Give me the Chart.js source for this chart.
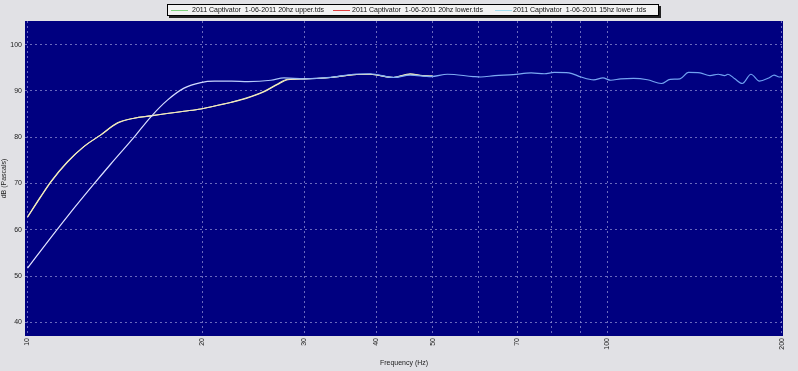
<!DOCTYPE html>
<html>
<head>
<meta charset="utf-8">
<script src="https://cdn.jsdelivr.net/npm/chart.js@4.4.0/dist/chart.umd.min.js"></script>
<style>
  body { margin: 0; background: #e1e1e5; }
  #wrap { position: relative; width: 798px; height: 371px; }
  #legend {
    position: absolute; left: 167px; top: 4px; width: 490px; height: 10px;
    background: #f2f2f2; border: 1px solid #000; box-shadow: 2px 2px 0 #222;
    font: 7px "Liberation Sans", Arial, sans-serif; color: #111;
  }
  #legend .ln { position: absolute; top: 5px; height: 1px; width: 17px; }
  #legend .tx { position: absolute; top: 1px; white-space: pre; line-height: 8px; }
</style>
</head>
<body>
<div id="wrap">
  <canvas id="freqChart"></canvas>
  <div id="legend"></div>
</div>
<script>
// Frequências (Hz) e níveis (dB)
const freq15 = [10, 10.97, 11.72, 13.02, 13.92, 15.27, 16.32, 17.43, 18.62, 19.9, 21, 22.5, 24, 26.3, 27.7, 30, 33.3, 36.5, 39, 42.8, 45.7, 49.7, 53, 58.7, 60.5, 64, 68.8, 73.9, 77.9, 81, 85.9, 90.1, 94.8, 98.3, 101.4, 105.5, 111, 117.3, 124, 128.4, 133.5, 138.1, 144.6, 150.4, 155.4, 159.4, 161.5, 166, 171, 177, 183, 190, 194, 198, 200];
const db15lower = [51.7, 58.3, 62.9, 69.9, 74.2, 80.0, 84.4, 88.0, 90.6, 91.8, 92.1, 92.1, 92.0, 92.3, 92.8, 92.6, 92.9, 93.6, 93.7, 92.9, 93.4, 93.1, 93.6, 93.1, 93.0, 93.3, 93.5, 93.9, 93.7, 94.0, 93.9, 93.0, 92.4, 92.8, 92.3, 92.6, 92.7, 92.4, 91.6, 92.5, 92.6, 94.0, 93.9, 93.3, 93.6, 93.3, 93.6, 92.6, 91.6, 93.6, 92.1, 92.8, 93.4, 93.0, 93.1];

const freq20 = [10, 10.54, 10.97, 11.72, 12.52, 13.38, 14.29, 15.27, 16.32, 17.4, 18.62, 19.9, 21.5, 22.4, 23.9, 25.6, 27.0, 28.1, 30, 33.3, 36.5, 39, 42.8, 45.7, 48, 50];
const db20upper = [62.8, 67.2, 70.4, 74.7, 78.0, 80.5, 83.1, 84.1, 84.6, 85.1, 85.6, 86.1, 87.0, 87.5, 88.5, 89.9, 91.5, 92.5, 92.6, 92.9, 93.5, 93.6, 92.9, 93.7, 93.3, 93.2];
const db20lower = [62.7, 67.1, 70.3, 74.6, 78.0, 80.5, 83.0, 84.1, 84.6, 85.1, 85.6, 86.1, 87.0, 87.5, 88.4, 89.8, 91.4, 92.4, 92.6, 92.9, 93.5, 93.6, 92.9, 93.6, 93.3, 93.2];

const xTicks = [10, 20, 30, 40, 50, 60, 70, 80, 90, 100, 200];
const xLabels = [10, 20, 30, 40, 50, 70, 100, 200];
const yTicks = [40, 50, 60, 70, 80, 90, 100];

const seriesNames = [
    '2011 Captivator  1-06-2011 20hz upper.tds',
    '2011 Captivator  1-06-2011 20hz lower.tds',
    '2011 Captivator  1-06-2011 15hz lower .tds'
];
const legendColors = ['#7ed07e', '#e04040', '#9fdcef'];

const fontFamily = '"Liberation Sans", Arial, sans-serif';
const gridColor = 'rgba(150, 150, 215, 0.7)';

// Monta pares {x, y}
function pares(xs, ys) {
    return xs.map((x, i) => ({ x: x, y: ys[i] }));
}

// Gradiente da curva de 15hz (esbranquiçada nos graves, azul clara nos agudos)
function gradiente15(context) {
    const chart = context.chart;
    const area = chart.chartArea;
    if (!area) return '#b0c4ff';
    const g = chart.ctx.createLinearGradient(area.left, 0, area.right, 0);
    g.addColorStop(0, '#e4e4ff');
    g.addColorStop(0.22, '#d4dcff');
    g.addColorStop(0.42, '#86b0f4');
    g.addColorStop(1, '#6a9ef0');
    return g;
}

// Fundo azul marinho da área do gráfico
const fundoPlot = {
    id: 'fundoPlot',
    beforeDraw(chart) {
        const { ctx, chartArea } = chart;
        ctx.save();
        ctx.fillStyle = '#000080';
        ctx.fillRect(chartArea.left, chartArea.top, chartArea.right - chartArea.left, chartArea.bottom - chartArea.top);
        ctx.restore();
    }
};

// Legenda em HTML
const legend = document.getElementById('legend');
const lineLefts = [3, 165, 327];
const textLefts = [24, 184, 345];
seriesNames.forEach((name, i) => {
    const ln = document.createElement('div');
    ln.className = 'ln';
    ln.style.left = lineLefts[i] + 'px';
    ln.style.background = legendColors[i];
    legend.appendChild(ln);
    const tx = document.createElement('div');
    tx.className = 'tx';
    tx.style.left = textLefts[i] + 'px';
    tx.textContent = name;
    legend.appendChild(tx);
});

const ctx = document.getElementById('freqChart').getContext('2d');
new Chart(ctx, {
    type: 'line',
    data: {
        datasets: [
            {
                label: seriesNames[2],
                data: pares(freq15, db15lower),
                borderColor: gradiente15,
                borderWidth: 1.2,
                pointRadius: 0,
                cubicInterpolationMode: 'monotone',
                fill: false
            },
            {
                label: seriesNames[1],
                data: pares(freq20, db20lower),
                borderColor: '#f4e8c0',
                borderWidth: 1.1,
                pointRadius: 0,
                cubicInterpolationMode: 'monotone',
                fill: false
            },
            {
                label: seriesNames[0],
                data: pares(freq20, db20upper),
                borderColor: '#e6f0b0',
                borderWidth: 1.1,
                pointRadius: 0,
                cubicInterpolationMode: 'monotone',
                fill: false
            }
        ]
    },
    options: {
        responsive: true,
        maintainAspectRatio: false,
        animation: false,
        layout: { padding: { left: 0, right: 15, top: 21, bottom: 0 } },
        plugins: {
            legend: { display: false },
            tooltip: { enabled: false }
        },
        scales: {
            x: {
                type: 'logarithmic',
                min: 9.9,
                max: 201,
                afterBuildTicks: scale => { scale.ticks = xTicks.map(v => ({ value: v })); },
                afterFit: scale => { scale.height = 35; },
                ticks: {
                    minRotation: 90,
                    maxRotation: 90,
                    autoSkip: false,
                    padding: 2,
                    color: '#222',
                    font: { size: 7, family: fontFamily },
                    callback: value => xLabels.includes(value) ? String(value) : ''
                },
                grid: { color: gridColor, drawTicks: false, lineWidth: 1 },
                border: { display: false, dash: [2, 3] },
                title: {
                    display: true,
                    text: 'Frequency (Hz)',
                    color: '#222',
                    font: { size: 7, family: fontFamily },
                    padding: { top: 0, bottom: 4 }
                }
            },
            y: {
                type: 'linear',
                min: 37.04,
                max: 105.1,
                afterBuildTicks: scale => { scale.ticks = yTicks.map(v => ({ value: v })); },
                afterFit: scale => { scale.width = 25; },
                ticks: {
                    padding: 3,
                    color: '#222',
                    font: { size: 7, family: fontFamily }
                },
                grid: { color: gridColor, drawTicks: false, lineWidth: 1 },
                border: { display: false, dash: [2, 3] },
                title: {
                    display: true,
                    text: 'dB (Pascals)',
                    color: '#222',
                    font: { size: 7, family: fontFamily },
                    padding: { top: 0, bottom: 0 }
                }
            }
        }
    },
    plugins: [fundoPlot]
});
</script>
</body>
</html>
